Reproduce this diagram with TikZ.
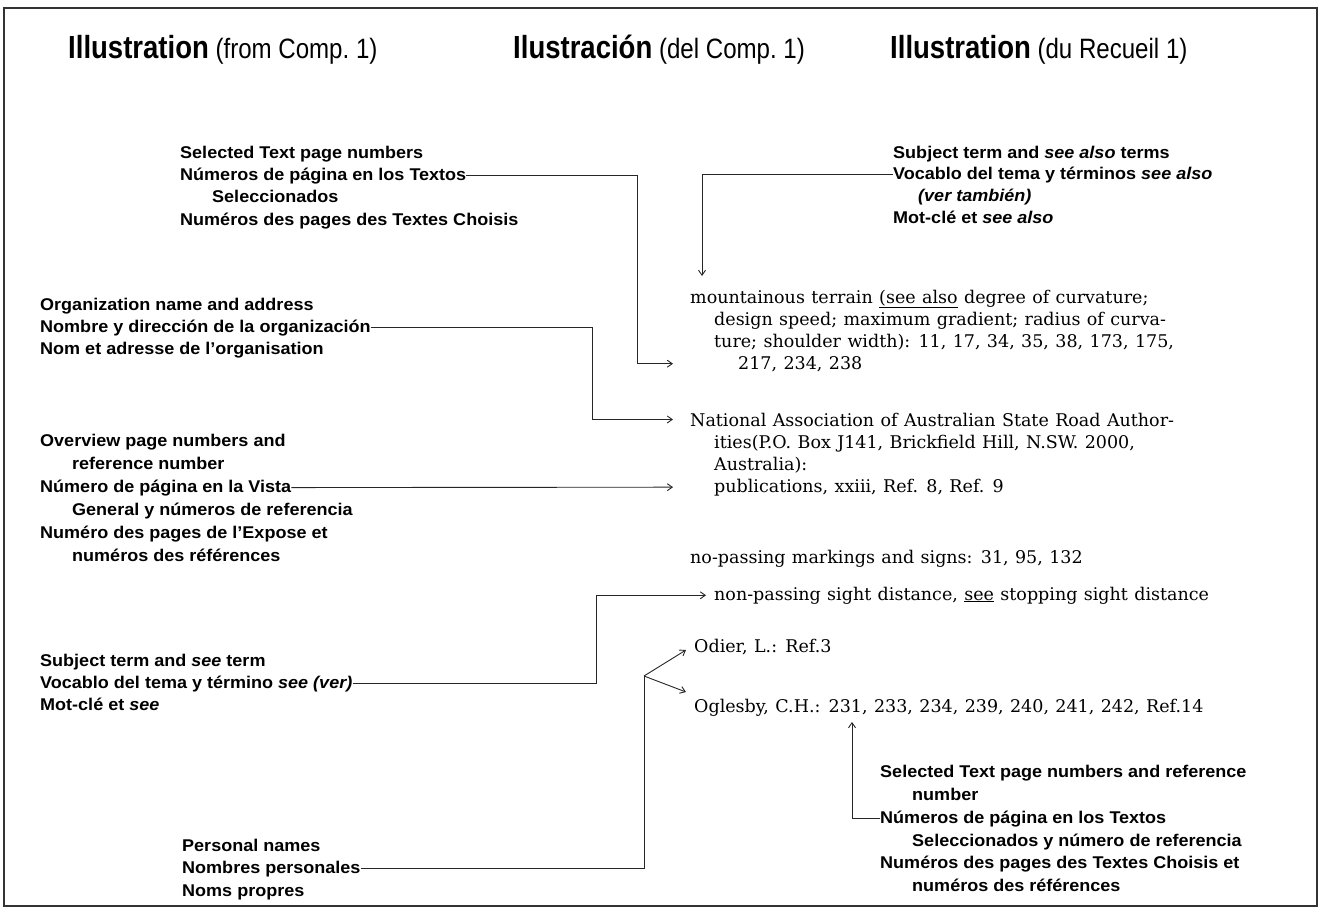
\documentclass[tikz,border=0pt]{standalone}
\usepackage{fontspec}
\usetikzlibrary{arrows.meta}
\newfontfamily\labfont[FakeStretch=1.06]{Liberation Sans}
\newfontfamily\entfont[WordSpace=1.15]{DejaVu Serif}
\newfontfamily\hdfont[FakeStretch=0.86]{Liberation Sans}
\tikzset{
  lab/.style={anchor=base west, inner sep=0pt, font=\labfont\bfseries\fontsize{17}{20}\selectfont},
  ent/.style={anchor=base west, inner sep=0pt, font=\entfont\fontsize{17.5}{20}\selectfont},
  hd/.style={anchor=base west, inner sep=0pt, font=\hdfont\fontsize{28}{30}\selectfont},
  con/.style={line width=0.9pt, draw=black!85},
  tip/.style={con, -{Straight Barb[length=5pt,width=7pt]}},
}
\newcommand{\hdbold}[1]{{\hdfont\bfseries\fontsize{32}{34}\selectfont #1}}
\begin{document}
\begin{tikzpicture}[x=1pt,y=-1pt]
\useasboundingbox (0,0) rectangle (1322,913);
\draw[line width=1.1pt, black!80] (4,8) rectangle (1317,906);
% headings
\node[hd] (h1) at (68,58) {\hdbold{Illustration} (from Comp.~1)};
\node[hd] (h2) at (513,58) {\hdbold{Ilustración} (del Comp.~1)};
\node[hd] (h3) at (890,58) {\hdbold{Illustration} (du Recueil 1)};
% block A
\node[lab] (a1) at (180,158) {Selected Text page numbers};
\node[lab] (a2) at (180,180) {Números de página en los Textos};
\node[lab] (a3) at (212,202) {Seleccionados};
\node[lab] (a4) at (180,225) {Numéros des pages des Textes Choisis};
% block see also
\node[lab] (s1) at (893,158) {Subject term and \textit{see also} terms};
\node[lab] (s2) at (893,179) {Vocablo del tema y términos \textit{see also}};
\node[lab] (s3) at (918,201) {\textit{(ver también)}};
\node[lab] (s4) at (893,223) {Mot-clé et \textit{see also}};
% organization
\node[lab] (o1) at (40,310) {Organization name and address};
\node[lab] (o2) at (40,332) {Nombre y dirección de la organización};
\node[lab] (o3) at (40,354) {Nom et adresse de l’organisation};
% overview
\node[lab] (v1) at (40,446) {Overview page numbers and};
\node[lab] (v2) at (72,469) {reference number};
\node[lab] (v3) at (40,492) {Número de página en la Vista};
\node[lab] (v4) at (72,515) {General y números de referencia};
\node[lab] (v5) at (40,538) {Numéro des pages de l’Expose et};
\node[lab] (v6) at (72,561) {numéros des références};
% subject term see
\node[lab] (t1) at (40,666) {Subject term and \textit{see} term};
\node[lab] (t2) at (40,688) {Vocablo del tema y término \textit{see (ver)}};
\node[lab] (t3) at (40,710) {Mot-clé et \textit{see}};
% personal names
\node[lab] (p1) at (182,851) {Personal names};
\node[lab] (p2) at (182,873) {Nombres personales};
\node[lab] (p3) at (182,896) {Noms propres};
% bottom right
\node[lab] (b1) at (880,777) {Selected Text page numbers and reference};
\node[lab] (b2) at (912,800) {number};
\node[lab] (b3) at (880,823) {Números de página en los Textos};
\node[lab] (b4) at (912,846) {Seleccionados y número de referencia};
\node[lab] (b5) at (880,868) {Numéros des pages des Textes Choisis et};
\node[lab] (b6) at (912,891) {numéros des références};
% entries
\node[ent] (m1) at (690,303) {mountainous terrain \underline{(see also} degree of curvature;};
\node[ent] (m2) at (714,325) {design speed; maximum gradient; radius of curva-};
\node[ent] (m3) at (714,347) {ture; shoulder width): 11, 17, 34, 35, 38, 173, 175,};
\node[ent] (m4) at (738,369) {217, 234, 238};
\node[ent] (n1) at (690,426) {National Association of Australian State Road Author-};
\node[ent] (n2) at (714,448) {ities(P.O. Box J141, Brickfield Hill, N.SW. 2000,};
\node[ent] (n3) at (714,470) {Australia):};
\node[ent] (n4) at (714,492) {publications, xxiii, Ref. 8, Ref. 9};
\node[ent] (q1) at (690,563) {no-passing markings and signs: 31, 95, 132};
\node[ent] (q2) at (714,600) {non-passing sight distance, \underline{see} stopping sight distance};
\node[ent] (r1) at (694,652) {Odier, L.: Ref.3};
\node[ent] (r2) at (694,712) {Oglesby, C.H.: 231, 233, 234, 239, 240, 241, 242, Ref.14};
% connector helper coordinates
\coordinate (xa) at (637,0);
\coordinate (xo) at (592,0);
\coordinate (xt) at (596,0);
\coordinate (xp) at (644,0);
\coordinate (xs) at (702,0);
\coordinate (xb) at (852,0);
\coordinate (tp) at (673,0);
\coordinate (tq) at (706,0);
\coordinate (vx) at (644,676);
\coordinate (ua) at (702,276);
\coordinate (ub) at (852,722);
\coordinate (ta) at (686,650);
\coordinate (tb) at (686,692);
% connectors
\draw[tip] (a2.east) -- (a2.east -| xa) -- (xa |- m4.west) -- (tp |- m4.west);
\draw[tip] (s2.west) -- (s2.west -| xs) -- (ua);
\draw[tip] (o2.east) -- (o2.east -| xo) -- (xo |- n1.west) -- (tp |- n1.west);
\draw[tip] (v3.east) -- (tp |- n4.west);
\draw[tip] (t2.east) -- (t2.east -| xt) -- (xt |- q2.west) -- (tq |- q2.west);
\draw[con] (p2.east) -- (p2.east -| xp) -- (vx);
\draw[tip] (vx) -- (ta);
\draw[tip] (vx) -- (tb);
\draw[tip] (b3.west) -- (b3.west -| xb) -- (ub);
\end{tikzpicture}
\end{document}
